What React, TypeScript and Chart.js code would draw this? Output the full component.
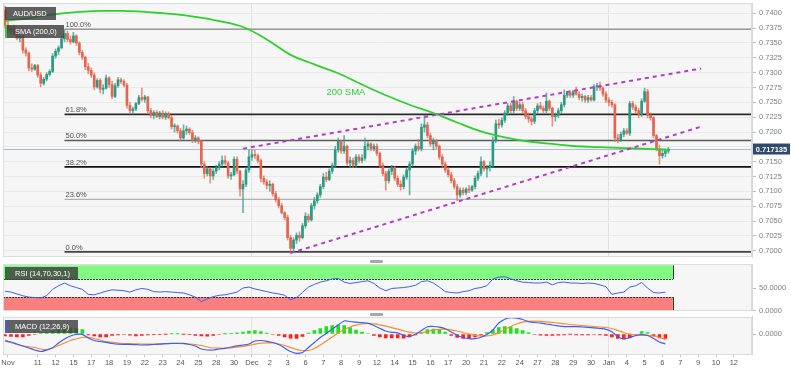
import React, { useEffect, useRef } from 'react';
import { Chart, registerables } from 'chart.js';

Chart.register(...registerables);

const FONT = '"Liberation Sans", Arial, Helvetica, sans-serif';

// ---------- DATA (AUD/USD 4H, prices in pips above 0.7000) ----------
const candleOpen = [405,380,372,375,366,358,361,338,333,308,306,312,296,282,289,297,302,328,336,342,357,366,356,352,362,350,334,326,310,304,296,276,287,272,274,291,280,260,278,288,285,279,245,236,239,248,258,255,259,236,228,233,226,232,225,231,224,209,210,202,190,202,205,199,186,190,184,146,130,138,126,134,140,146,152,148,126,128,154,134,104,112,136,158,162,160,152,122,116,110,112,96,86,76,64,56,22,4,18,26,22,42,58,52,76,84,94,108,124,120,134,144,170,184,168,176,148,152,144,158,152,156,176,180,172,176,164,144,130,118,134,140,122,112,108,124,136,146,168,176,172,208,212,194,180,186,176,158,146,136,128,118,108,94,102,98,104,102,108,122,130,150,138,140,144,186,214,212,220,232,244,236,252,240,246,236,226,222,218,236,244,240,236,252,240,226,228,236,246,262,266,262,268,264,258,260,254,258,254,276,278,274,264,254,250,246,190,186,196,202,198,248,242,236,230,252,268,228,224,194,172,160,164,168];
const candleHigh = [412,388,378,380,370,365,363,342,335,315,314,314,300,292,300,305,332,340,345,360,373,370,362,368,364,352,338,328,316,308,300,290,290,280,296,293,286,282,292,291,288,282,250,242,250,262,274,262,260,240,236,236,235,236,234,234,228,214,212,206,212,210,207,203,194,192,186,150,142,140,138,144,150,160,160,150,132,158,158,136,118,140,170,170,170,163,155,126,120,118,114,100,90,80,66,60,26,22,30,32,46,64,62,80,90,98,112,130,132,138,148,176,190,186,194,178,158,156,162,162,162,190,184,182,180,180,166,148,134,138,144,142,126,118,128,140,150,172,180,188,214,228,216,198,190,188,178,162,150,140,132,122,112,106,106,106,110,110,126,134,158,152,144,150,192,220,222,224,236,248,248,260,254,250,250,240,232,226,240,248,250,244,266,254,242,232,240,250,271,268,270,270,276,268,264,262,262,262,280,282,284,276,268,258,254,248,196,200,206,206,252,252,246,240,256,274,272,232,226,196,178,172,172,174];
const candleLow = [375,368,365,362,355,352,333,328,303,302,304,292,276,279,286,294,300,324,330,340,352,352,348,350,346,330,322,305,298,292,271,274,266,264,272,275,256,258,275,282,276,240,232,230,236,246,252,250,232,224,222,224,222,222,221,222,205,200,198,185,188,196,196,182,182,180,140,122,126,114,120,130,136,142,144,122,120,126,130,92,64,108,132,152,155,148,116,112,104,100,92,82,72,62,52,18,-4,-2,12,16,20,38,48,50,70,80,90,104,116,118,130,140,166,164,164,144,140,140,140,148,148,152,170,168,168,160,140,126,102,114,128,118,108,102,104,120,94,142,162,168,168,200,190,176,170,172,154,140,132,124,114,104,84,90,94,94,98,100,104,118,126,134,124,134,140,182,206,208,216,228,232,232,236,236,232,222,216,212,214,232,238,232,232,236,210,218,224,232,242,258,258,258,262,254,252,250,250,252,252,270,270,260,250,244,242,184,182,184,192,196,194,238,232,224,226,250,224,220,190,168,146,156,158,164];
const candleClose = [380,372,375,366,358,361,338,333,308,306,312,296,282,289,297,302,328,336,342,357,366,356,352,362,350,334,326,310,304,296,276,287,272,274,291,280,260,278,288,285,279,245,236,239,248,258,255,259,236,228,233,226,232,225,231,224,209,210,202,190,202,205,199,186,190,184,146,130,138,126,134,140,146,152,148,126,128,154,134,104,112,136,158,162,160,152,122,116,110,112,96,86,76,64,56,22,4,18,26,22,42,58,52,76,84,94,108,124,120,134,144,170,184,168,176,148,152,144,158,152,156,176,180,172,176,164,144,130,118,134,140,122,112,108,124,136,146,168,176,172,208,212,194,180,186,176,158,146,136,128,118,108,94,102,98,104,102,108,122,130,150,138,140,144,186,214,212,220,232,244,236,252,240,246,236,226,222,218,236,244,240,236,252,240,226,228,236,246,262,266,262,268,264,258,260,254,258,254,276,278,274,264,254,250,246,190,186,196,202,198,248,242,236,230,252,268,228,224,194,172,160,164,168,171.35];

// 200-period SMA, sampled at candle indices (pips above 0.7000)
const smaIndex = [0,8,16,24,32,40,48,56,64,72,80,88,96,104,112,120,128,136,144,152,160,168,176,184,192,200,208,216,223];
const smaValue = [387,392,398,402,404,404,402,399,394,387,377,356,330,314,299,280,262,246,232,216,201,191,184,180,176,174.5,173,171.5,170];

// Indicators sampled every 2 candles
const rsiValue = [43,41,37,33,30,29,28,33,47,55,61,55,51,47,36,35,39,43,46,45,44,41,46,49,47,42,41,42,41,40,39,35,30,20,26,31,34,35,38,41,50,52,48,45,42,39,37,34,24,29,40,52,58,63,66,70,71,63,60,62,64,66,60,50,44,49,50,51,53,56,64,66,61,52,42,40,39,42,44,49,51,55,70,74,75,70,66,63,62,61,61,63,57,62,63,61,61,60,61,60,57,53,36,39,41,52,55,62,50,40,39,41];
// MACD values in units of 0.0001
const macdLine = [-7,-8,-10,-12,-14,-16,-17.5,-16,-13.7,-9,-5,-2,-0.5,-0.3,-4,-6.5,-7.5,-8.3,-9.5,-10.2,-10.3,-10.3,-10.6,-11,-10.8,-10.5,-10.2,-9.7,-9.3,-9.3,-9.3,-10.5,-12,-15,-16,-16,-15,-14.3,-13,-11.8,-11,-10,-7,-6.5,-7.3,-8.5,-10.5,-14,-17.5,-19.3,-18.5,-13.5,-8.5,-3.5,0.5,5,9,13,12.5,11.8,11.3,10.8,8.5,5.7,3,1.7,1.2,-1.5,-2.5,-0.3,3.5,7.3,7.5,6.8,5.2,2,-1.5,-3.5,-4.6,-4.7,-3.2,-0.5,4,11,14.8,16.3,15.9,14.5,12.3,11.5,10.9,10,9,8.2,7.4,7.3,7.3,7,6.6,6.1,5.5,4.7,2.3,-2.7,-4.8,-3.5,-1.5,-0.6,-1.5,-4.5,-8,-10];
const macdSignal = [-6,-8.5,-10.5,-12,-12.8,-13.5,-15,-15.5,-14,-11.5,-9,-6.5,-5,-3.5,-3.3,-4.5,-6,-7.5,-8.2,-9,-9.5,-9.7,-9.8,-10,-10,-10,-9.8,-9.6,-9.5,-9.5,-9.7,-10,-10.5,-11.5,-13,-14,-14.2,-14.2,-13.8,-13.2,-12.3,-11.3,-10.2,-9.2,-8.8,-9,-10,-11.5,-13.5,-15.5,-16.5,-16.5,-14.5,-11,-7,-3,1,4.5,7,8.8,10,10.5,10.2,9.2,7.8,6.3,4.8,3.2,1.8,1,1.3,2.5,3.8,4.6,4.8,4.2,3,1.5,0,-1.3,-2,-2,-1,1.5,4.5,7.5,10,11.8,12.6,12.8,12.6,12.2,11.6,10.9,10.2,9.5,9,8.5,8,7.5,7,6.5,5.5,3.5,1.5,-0.2,-1,-1.2,-1.3,-2,-3.5,-5.5];
const macdHist = [-2,-2.5,-3,-2.8,-1.5,-0.5,0.3,1.5,3,4.5,5.5,6,5.5,4.5,-1,-2,-3,-2.8,-1.5,-0.8,-0.5,-1.2,-1.8,-1.5,-0.8,-0.3,-0.3,-0.2,0.2,0.2,-0.2,-0.6,-1.5,-2,-2.2,-1.5,-0.5,0.2,0.6,1.2,2,3,3.5,2.5,1,-0.5,-1.5,-3,-4.2,-4.5,-2.5,1,3.5,5.5,7.5,8.5,9,8.5,6.5,4,2,0.5,-1.5,-3,-4,-4,-3.8,-4.2,-3,-1,1.5,4.5,5,4,2,-1.5,-3.5,-4.5,-4.2,-3,-1.2,1.5,4,6.5,7.5,7,5.5,3.5,1.5,-0.5,-1.2,-1.5,-1.5,-1.2,-0.8,-0.2,-0.8,-1,-0.8,-0.5,-0.8,-1.5,-3,-4.5,-5,-4,-0.5,2.5,1.5,-2,-4,-4.5];

const xTickLabels = ['Nov','11','12','15','17','18','19','22','23','24','25','28','30','Dec','2','3','6','7','8','9','12','14','15','16','17','20','21','22','24','27','28','29','30','Jan','4','5','6','7','9','10','12'];
const monthLabels = ['Dec', 'Jan'];
const priceTicks = [0.7000,0.7025,0.7050,0.7075,0.7100,0.7125,0.7150,0.7175,0.7200,0.7225,0.7250,0.7275,0.7300,0.7325,0.7350,0.7375,0.7400];

// Fibonacci retracement (Nov 15 high -> Dec 3 low)
const fibHigh = 0.7373;
const fibLow = 0.6998;
const fibStartIdx = 20;
const fibLevels = [1, 0.618, 0.5, 0.382, 0.236, 0];
const fibLabels = ['100.0%', '61.8%', '50.0%', '38.2%', '23.6%', '0.0%'];
const fibColors = ['#9a9a9a', '#2a2a2a', '#5a5a5a', '#111111', '#b0b0b0', '#444444'];
const fibWidths = [1.5, 1.8, 1.5, 1.8, 1.2, 1.8];

// Rising channel
const channelUpper = [{ x: 80, y: 0.7172 }, { x: 234, y: 0.7307 }];
const channelLower = [{ x: 96, y: 0.6996 }, { x: 234, y: 0.7209 }];

const lastPrice = 0.717135;
const smaLabel = { x: 114.6, y: 0.7267, text: '200 SMA' };
const rsiBandEnd = 224.5;

// ---------- layout constants ----------
const X_MIN = -0.67;
const X_MAX = 251.1;
const AXIS_W = 39;
const Y_MIN = 0.69894;
const Y_MAX = 0.74174;

const UP = '#2b9a83';
const DOWN = '#e5654f';

const toPrice = (p: number) => 0.7 + p / 10000;
const tickIdx = xTickLabels.map((_, k) => (k === 0 ? 1 : 11 + 6 * (k - 1)));

function makeX(showLabels: boolean) {
  return {
    type: 'linear',
    min: X_MIN,
    max: X_MAX,
    offset: false,
    afterBuildTicks: (s: any) => {
      s.ticks = tickIdx.map((v) => ({ value: v }));
    },
    afterFit: (s: any) => {
      s.height = showLabels ? 17.7 : 0;
      s.paddingLeft = 0;
      s.paddingRight = 0;
    },
    ticks: {
      display: showLabels,
      autoSkip: false,
      maxRotation: 0,
      minRotation: 0,
      padding: 1.5,
      color: '#555',
      font: { family: FONT, size: 7.5 },
      callback: (_v: any, i: number) => xTickLabels[i],
    },
    grid: {
      offset: false,
      drawTicks: showLabels,
      tickLength: 3,
      tickColor: '#c4c4c4',
      color: (ctx: any) => (monthLabels.includes(xTickLabels[ctx.index]) ? '#e2e2e2' : 'rgba(0,0,0,0)'),
    },
    border: { display: false },
  };
}

function makeY(min: number, max: number, ticks: number[], gridOnArea: boolean, fmt: (v: number) => string) {
  return {
    type: 'linear',
    position: 'right',
    min,
    max,
    afterBuildTicks: (s: any) => {
      s.ticks = ticks.map((v) => ({ value: v }));
    },
    afterFit: (s: any) => {
      s.width = AXIS_W;
      s.paddingTop = 0;
      s.paddingBottom = 0;
    },
    ticks: {
      padding: 3,
      color: '#808080',
      font: { family: FONT, size: 7.5 },
      callback: (v: any) => fmt(Number(v)),
    },
    grid: {
      drawOnChartArea: gridOnArea,
      color: '#e9e9e9',
      tickLength: 4,
      tickColor: '#bdbdbd',
    },
    border: { color: '#d6d6d6' },
  };
}

const panelPlugin = {
  id: 'panelBg',
  beforeDraw(chart: any) {
    const { ctx, chartArea: a } = chart;
    ctx.save();
    ctx.fillStyle = '#f6f6f6';
    ctx.fillRect(a.left, a.top, a.right - a.left, a.bottom - a.top);
    ctx.restore();
  },
  afterDraw(chart: any) {
    const { ctx, chartArea: a } = chart;
    ctx.save();
    ctx.strokeStyle = '#dcdcdc';
    ctx.lineWidth = 1;
    ctx.strokeRect(Math.round(a.left) + 0.5, Math.round(a.top) + 0.5, Math.round(a.right - a.left) - 1, Math.round(a.bottom - a.top) - 1);
    ctx.restore();
  },
};

function hline(ctx: any, x1: number, x2: number, y: number) {
  ctx.beginPath();
  ctx.moveTo(x1, y);
  ctx.lineTo(x2, y);
  ctx.stroke();
}

const mainPlugin = {
  id: 'mainOverlay',
  beforeDatasetsDraw(chart: any) {
    const { ctx, chartArea: a, scales } = chart;
    const x = scales.x;
    const y = scales.y;
    ctx.save();
    const py = Math.round(y.getPixelForValue(lastPrice)) + 0.5;
    ctx.strokeStyle = '#a9bccf';
    ctx.lineWidth = 1;
    hline(ctx, a.left, a.right, py);
    const x0 = x.getPixelForValue(fibStartIdx);
    ctx.font = `7.5px ${FONT}`;
    ctx.textBaseline = 'bottom';
    ctx.textAlign = 'left';
    fibLevels.forEach((lv, k) => {
      const yy = y.getPixelForValue(fibLow + (fibHigh - fibLow) * lv);
      ctx.strokeStyle = fibColors[k];
      ctx.lineWidth = fibWidths[k];
      hline(ctx, x0, a.right, yy);
      ctx.fillStyle = '#505050';
      ctx.fillText(fibLabels[k], x0 + 1, yy - 0.5);
    });
    ctx.restore();
  },
  afterDraw(chart: any) {
    const { ctx, chartArea: a, scales } = chart;
    const x = scales.x;
    const y = scales.y;
    ctx.save();
    ctx.font = `9.5px ${FONT}`;
    ctx.fillStyle = '#33cc33';
    ctx.textAlign = 'center';
    ctx.textBaseline = 'middle';
    ctx.fillText(smaLabel.text, x.getPixelForValue(smaLabel.x), y.getPixelForValue(smaLabel.y));
    const py = y.getPixelForValue(lastPrice);
    ctx.fillStyle = '#2e4b6d';
    ctx.fillRect(a.right + 1, py - 5.5, 37, 11);
    ctx.fillStyle = '#ffffff';
    ctx.font = `bold 7.5px ${FONT}`;
    ctx.textAlign = 'center';
    ctx.fillText(lastPrice.toFixed(6), a.right + 19.5, py + 0.5);
    ctx.restore();
  },
};

const rsiPlugin = {
  id: 'rsiBands',
  beforeDatasetsDraw(chart: any) {
    const { ctx, chartArea: a, scales } = chart;
    const x = scales.x;
    const y = scales.y;
    const xr = x.getPixelForValue(rsiBandEnd);
    const y100 = y.getPixelForValue(100);
    const y70 = y.getPixelForValue(70);
    const y30 = y.getPixelForValue(30);
    const y0 = y.getPixelForValue(0);
    ctx.save();
    ctx.fillStyle = '#80fa80';
    ctx.fillRect(a.left, y100, xr - a.left, y70 - y100);
    ctx.fillStyle = '#fa8080';
    ctx.fillRect(a.left, y30, xr - a.left, y0 - y30);
    ctx.strokeStyle = '#333';
    ctx.lineWidth = 1;
    ctx.setLineDash([2, 1]);
    hline(ctx, a.left, xr, Math.round(y70) + 0.5);
    hline(ctx, a.left, xr, Math.round(y30) + 0.5);
    ctx.setLineDash([]);
    ctx.beginPath();
    ctx.moveTo(Math.round(xr) + 0.5, y100);
    ctx.lineTo(Math.round(xr) + 0.5, y70);
    ctx.moveTo(Math.round(xr) + 0.5, y30);
    ctx.lineTo(Math.round(xr) + 0.5, y0);
    ctx.stroke();
    ctx.restore();
  },
};

const baseOptions = (padding: any) => ({
  responsive: false,
  animation: false,
  events: [],
  layout: { padding },
  plugins: { legend: { display: false }, tooltip: { enabled: false } },
});

export default function App() {
  const mainRef = useRef<HTMLCanvasElement>(null);
  const rsiRef = useRef<HTMLCanvasElement>(null);
  const macdRef = useRef<HTMLCanvasElement>(null);

  useEffect(() => {
    const idx = candleClose.map((_, i) => i);
    const isUp = (i: number) => candleClose[i] >= candleOpen[i];

    const main = new Chart(mainRef.current as HTMLCanvasElement, {
      type: 'bar',
      data: {
        datasets: [
          {
            type: 'line',
            data: channelUpper,
            borderColor: '#b53cc6',
            borderWidth: 2,
            borderDash: [4, 4],
            pointRadius: 0,
            order: 0,
          },
          {
            type: 'line',
            data: channelLower,
            borderColor: '#b53cc6',
            borderWidth: 2,
            borderDash: [4, 4],
            pointRadius: 0,
            order: 0,
          },
          {
            type: 'line',
            data: smaIndex.map((xv, k) => ({ x: xv, y: toPrice(smaValue[k]) })),
            borderColor: '#2fcf2f',
            borderWidth: 1.8,
            pointRadius: 0,
            tension: 0.4,
            order: 1,
          },
          {
            type: 'bar',
            data: idx.map((i) => ({ x: i, y: [toPrice(candleLow[i]), toPrice(candleHigh[i])] })),
            backgroundColor: idx.map((i) => (isUp(i) ? 'rgba(43,154,131,0.7)' : 'rgba(229,101,79,0.7)')),
            barThickness: 1,
            grouped: false,
            order: 3,
          },
          {
            type: 'bar',
            data: idx.map((i) => ({ x: i, y: [toPrice(candleOpen[i]), toPrice(candleClose[i])] })),
            backgroundColor: idx.map((i) => (isUp(i) ? UP : DOWN)),
            barThickness: 2,
            minBarLength: 1,
            grouped: false,
            order: 2,
          },
        ],
      } as any,
      options: {
        ...baseOptions({ top: 3, left: 3, right: 0, bottom: 5 }),
        scales: {
          x: makeX(false),
          y: makeY(Y_MIN, Y_MAX, priceTicks, true, (v) => v.toFixed(4)),
        },
      } as any,
      plugins: [panelPlugin, mainPlugin],
    });

    const rsi = new Chart(rsiRef.current as HTMLCanvasElement, {
      type: 'line',
      data: {
        datasets: [
          {
            data: rsiValue.map((v, k) => ({ x: 2 * k, y: v })),
            borderColor: '#3f5ef0',
            borderWidth: 1,
            pointRadius: 0,
            tension: 0,
          },
        ],
      } as any,
      options: {
        ...baseOptions({ top: 2, left: 3, right: 0, bottom: 5.3 }),
        scales: {
          x: makeX(false),
          y: makeY(0, 102.9, [0, 50], false, (v) => v.toFixed(4)),
        },
      } as any,
      plugins: [panelPlugin, rsiPlugin],
    });

    const macd = new Chart(macdRef.current as HTMLCanvasElement, {
      type: 'bar',
      data: {
        datasets: [
          {
            type: 'line',
            data: macdLine.map((v, k) => ({ x: 2 * k, y: v })),
            borderColor: '#3f5ef0',
            borderWidth: 1.2,
            pointRadius: 0,
            tension: 0.3,
            order: 0,
          },
          {
            type: 'line',
            data: macdSignal.map((v, k) => ({ x: 2 * k, y: v })),
            borderColor: '#ff8a2a',
            borderWidth: 1.2,
            pointRadius: 0,
            tension: 0.3,
            order: 1,
          },
          {
            type: 'bar',
            data: macdHist.map((v, k) => ({ x: 2 * k, y: v })),
            backgroundColor: macdHist.map((v) => (v >= 0 ? '#1fe01f' : '#ff1f1f')),
            barThickness: 3,
            grouped: false,
            order: 2,
          },
        ],
      } as any,
      options: {
        ...baseOptions({ top: 4.7, left: 3, right: 0, bottom: 0 }),
        scales: {
          x: makeX(true),
          y: makeY(-20.3, 17.3, [0], false, (v) => (v / 10000).toFixed(4)),
        },
      } as any,
      plugins: [panelPlugin],
    });

    return () => {
      main.destroy();
      rsi.destroy();
      macd.destroy();
    };
  }, []);

  const box = (left: number, top: number, width: number, text: string, accent: string | null) => (
    <div
      style={{
        position: 'absolute',
        left,
        top,
        width,
        height: 13,
        background: 'rgba(62,62,62,0.82)',
        color: '#fff',
        font: `7.5px ${FONT}`,
        lineHeight: '13px',
        paddingLeft: 8,
        boxSizing: 'border-box',
        borderLeft: accent ? `2px solid ${accent}` : 'none',
        whiteSpace: 'nowrap',
        zIndex: 5,
      }}
    >
      {text}
    </div>
  );

  const handle = (top: number) => (
    <div
      style={{
        position: 'absolute',
        left: 370,
        top,
        width: 13,
        height: 2.5,
        background: '#a8a8a8',
        borderRadius: 1,
        zIndex: 5,
      }}
    />
  );

  return (
    <div style={{ position: 'fixed', left: 0, top: 0, width: 791, height: 372, background: '#fff', overflow: 'hidden' }}>
      <canvas ref={mainRef} width={791} height={262} style={{ position: 'absolute', left: 0, top: 0 }} />
      <canvas ref={macdRef} width={791} height={60} style={{ position: 'absolute', left: 0, top: 312 }} />
      <canvas ref={rsiRef} width={791} height={54} style={{ position: 'absolute', left: 0, top: 262 }} />
      {box(5, 6.5, 51, 'AUD/USD', null)}
      {box(5, 24.5, 59, 'SMA (200,0)', '#2fcf2f')}
      {box(5, 267, 73, 'RSI (14,70,30,1)', '#1e7a1e')}
      {box(5, 319.5, 73, 'MACD (12,26,9)', '#3f5ef0')}
      {handle(260)}
      {handle(313.3)}
    </div>
  );
}
